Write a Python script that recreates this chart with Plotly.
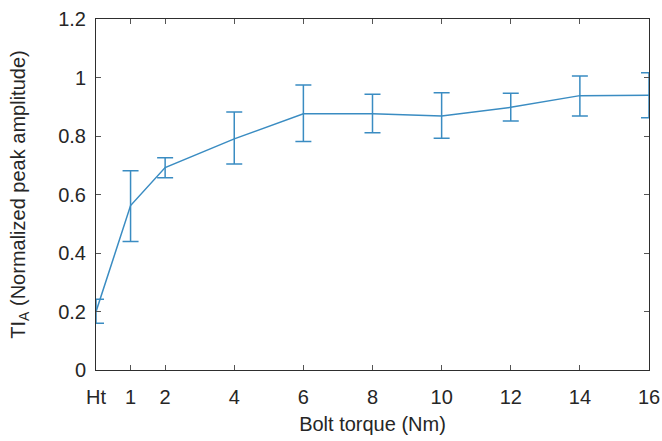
import plotly.graph_objects as go

x_vals = [0, 1, 2, 4, 6, 8, 10, 12, 14, 16]
x_labels = ["Ht", "1", "2", "4", "6", "8", "10", "12", "14", "16"]
y_mean = [0.199, 0.562, 0.692, 0.790, 0.876, 0.876, 0.868, 0.898, 0.938, 0.939]
y_upper = [0.242, 0.681, 0.726, 0.882, 0.974, 0.943, 0.948, 0.946, 1.005, 1.016]
y_lower = [0.160, 0.439, 0.657, 0.704, 0.781, 0.811, 0.792, 0.851, 0.868, 0.862]
y_ticks = [0, 0.2, 0.4, 0.6, 0.8, 1.0, 1.2]
y_tick_labels = ["0", "0.2", "0.4", "0.6", "0.8", "1", "1.2"]

err_plus = [u - m for u, m in zip(y_upper, y_mean)]
err_minus = [m - l for m, l in zip(y_mean, y_lower)]

color = "#3a8cc2"

fig = go.Figure()
fig.add_trace(go.Scatter(
    x=x_vals, y=y_mean, mode="lines",
    line=dict(color=color, width=1.5),
    error_y=dict(type="data", symmetric=False, array=err_plus, arrayminus=err_minus,
                 color=color, thickness=1.5, width=8),
    cliponaxis=False,
    showlegend=False,
))

axis_color = "#2e2e2e"
font = dict(family="Liberation Sans, Arial, sans-serif", size=20, color="#262626")

fig.update_layout(
    width=662, height=441,
    margin=dict(l=96, r=13, t=19, b=71),
    paper_bgcolor="white", plot_bgcolor="white",
    font=font,
    xaxis=dict(
        range=[0, 16], tickvals=x_vals, ticktext=x_labels,
        automargin=False,
        showgrid=False, zeroline=False,
        showline=True, linecolor=axis_color, linewidth=1, mirror="ticks",
        ticks="inside", ticklen=5, tickcolor="#555555",
        ticklabelstandoff=9,
        title=dict(text="Bolt torque (Nm)", font=font, standoff=9),
        tickfont=font,
    ),
    yaxis=dict(
        range=[0, 1.2], tickvals=y_ticks, ticktext=y_tick_labels,
        automargin=False,
        showgrid=False, zeroline=False,
        showline=True, linecolor=axis_color, linewidth=1, mirror="ticks",
        ticks="inside", ticklen=5, tickcolor="#555555",
        ticklabelstandoff=5,
        title=dict(text="TI<sub>A</sub> (Normalized peak amplitude)", font=font, standoff=27),
        tickfont=font,
    ),
)

fig.write_html("out.html")
